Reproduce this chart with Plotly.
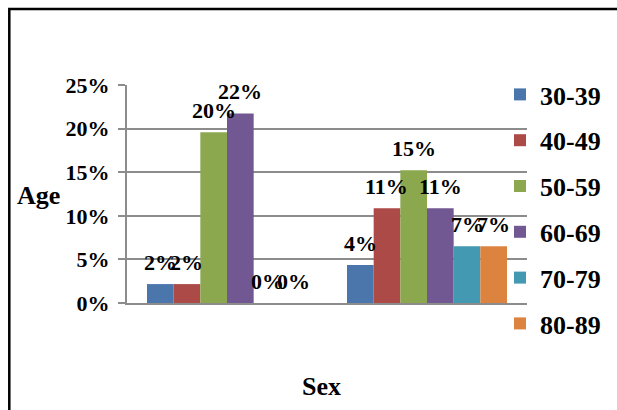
import plotly.graph_objects as go

categories = ["Male", "Female"]
series_names = ["30-39", "40-49", "50-59", "60-69", "70-79", "80-89"]
values_3039 = [0.0217, 0.0435]
values_4049 = [0.0217, 0.1087]
values_5059 = [0.1957, 0.1522]
values_6069 = [0.2174, 0.1087]
values_7079 = [0.0, 0.0652]
values_8089 = [0.0, 0.0652]
series_values = [values_3039, values_4049, values_5059, values_6069, values_7079, values_8089]
colors = ["#4A76AC", "#AC4A48", "#8BA84F", "#715892", "#4499B2", "#DC843F"]
y_ticks = [0, 0.05, 0.10, 0.15, 0.20, 0.25]
y_tick_labels = ["0%", "5%", "10%", "15%", "20%", "25%"]

W, H = 617, 410
L, R, T, B = 127, 528, 85, 303
FONT = "Liberation Serif"
BARGAP = 0.2

def px_x(p):
    return (p - L) / (R - L)

def px_y(p):
    return (B - p) / (B - T)

fig = go.Figure()
n = len(series_names)
cat_px = (R - L) / len(categories)
bar_px = cat_px * (1 - BARGAP) / n
for i, (name, vals) in enumerate(zip(series_names, series_values)):
    fig.add_trace(go.Bar(
        x=categories, y=vals, name=f"<b>{name}</b>",
        marker=dict(color=colors[i], line=dict(width=0)),
        legendgroup=name,
    ))
    # value labels above each bar
    for c, v in zip(categories, vals):
        fig.add_annotation(
            x=c, y=v, xref="x", yref="y",
            text=f"<b>{round(v*100):.0f}%</b>", showarrow=False,
            xanchor="center", yanchor="middle",
            xshift=(i - (n - 1) / 2) * bar_px, yshift=22,
            font=dict(family=FONT, size=22, color="black"),
        )

fig.update_layout(
    width=W, height=H,
    margin=dict(l=L, r=W - R, t=T, b=H - B),
    paper_bgcolor="white", plot_bgcolor="white",
    barmode="group", bargap=BARGAP, bargroupgap=0,
    font=dict(family=FONT, size=22, color="black"),
    showlegend=True,
    legend=dict(
        x=px_x(500), y=px_y(71), xanchor="left", yanchor="top",
        font=dict(family=FONT, size=26, color="black"),
        tracegroupgap=9, bgcolor="rgba(0,0,0,0)", maxheight=400,
    ),
    xaxis=dict(
        showticklabels=False, showgrid=False, zeroline=False,
        showline=True, linecolor="#8C8C8C", linewidth=2, ticks="",
    ),
    yaxis=dict(
        range=[0, 0.25], tickvals=y_ticks,
        ticktext=[f"<b>{t}</b>" for t in y_tick_labels],
        showgrid=True, gridcolor="#8C8C8C", gridwidth=1.5,
        showline=True, linecolor="#8C8C8C", linewidth=2,
        ticks="outside", ticklen=7, tickcolor="#8C8C8C", tickwidth=1.5,
        zeroline=False, ticklabelstandoff=4,
        tickfont=dict(family=FONT, size=22, color="black"),
    ),
)

fig.add_annotation(text="<b>Age</b>", xref="paper", yref="paper",
                   x=px_x(38.5), y=px_y(195), showarrow=False,
                   xanchor="center", yanchor="middle",
                   font=dict(family=FONT, size=26, color="black"))
fig.add_annotation(text="<b>Sex</b>", xref="paper", yref="paper",
                   x=px_x(322), y=px_y(386), showarrow=False,
                   xanchor="center", yanchor="middle",
                   font=dict(family=FONT, size=26, color="black"))

fig.add_shape(type="rect", xref="paper", yref="paper",
              x0=px_x(9), x1=px_x(700), y0=px_y(480), y1=px_y(9),
              line=dict(color="black", width=2.5), fillcolor="rgba(0,0,0,0)", layer="above")

fig.write_html("out.html")
